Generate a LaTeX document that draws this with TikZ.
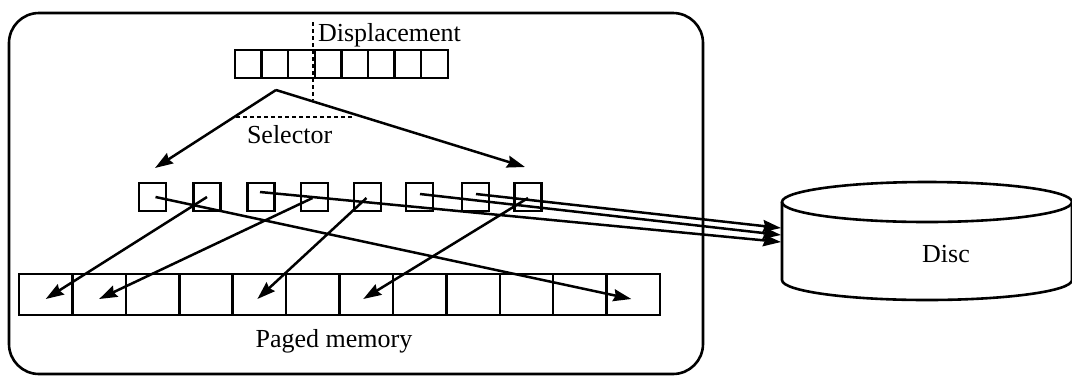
\documentclass[tikz,border=0pt]{standalone}
\usepackage{fontspec}
\setmainfont{Liberation Serif}
\usetikzlibrary{arrows.meta,calc}

\begin{document}
\begin{tikzpicture}[x=1pt,y=-1pt,
  every node/.style={inner sep=0pt,outer sep=0pt},
  frame/.style={line width=2.6pt,rounded corners=30pt},
  regcell/.style={draw,line width=2.5pt,minimum width=26.6pt,minimum height=28pt},
  memcell/.style={draw,line width=2.5pt,minimum width=53.42pt,minimum height=41pt},
  pbox/.style={draw,line width=2.5pt,minimum width=27pt,minimum height=28pt},
  link/.style={line width=2.5pt,-{Stealth[length=18pt,width=12pt,inset=2pt]}},
  splitline/.style={line width=2.5pt,dash pattern=on 4pt off 3pt},
  lbl/.style={font=\fontsize{26}{30}\selectfont},
  discline/.style={line width=2.6pt}]
\useasboundingbox (0,0) rectangle (1072,376);

% processor frame
\draw[frame] (9,13) rectangle (703,374);

% virtual address register
\foreach \i in {1,...,8}
  \node[regcell] (r\i) at ({235+26.6*(\i-0.5)},64) {};
\node[lbl,anchor=base west] (disp) at (318,41) {Displacement};
\coordinate (vtop) at (313,22);
\coordinate (vbot) at (313,100);
\draw[splitline] (vtop) -- (vbot);
\coordinate (hleft) at (236,117);
\coordinate (hright) at (352,117);
\draw[splitline] (hleft) -- (hright);
\node[lbl,anchor=base west] (sel) at (247,143) {Selector};

% page table entries
\foreach \i/\x in {1/152.5,2/207,3/261,4/314.5,5/367.5,6/419.5,7/475.5,8/528}
  \node[pbox] (b\i) at (\x,197) {};

% selector fan-out
\coordinate (apex) at (276,90);
\coordinate (fanl) at (155,168);
\coordinate (fanr) at (525,167);
\draw[link] (apex) -- (fanl);
\draw[link] (apex) -- (fanr);

% paged memory
\foreach \i in {1,...,12}
  \node[memcell] (m\i) at ({19+53.42*(\i-0.5)},294.5) {};
\node[lbl,anchor=base] (pm) at (334,347) {Paged memory};

% page table -> memory frames
\draw[link] ($(b1.center)+(3,0)$) -- ($(m12.center)+(-2,4.5)$);
\draw[link] (b2.center) -- ($(m1.center)+(0,4.5)$);
\draw[link] ($(b4.center)+(-2,1)$) -- ($(m2.center)+(0,4.5)$);
\draw[link] ($(b5.center)+(-1,1)$) -- ($(m5.center)+(-2,4.5)$);
\draw[link] ($(b8.center)+(0,1)$) -- ($(m7.center)+(-3,4.5)$);

% disc
\draw[discline] (927,202) ellipse [x radius=145pt,y radius=20pt];
\draw[discline] (782,202) -- (782,280) arc[start angle=180,end angle=360,x radius=145pt,y radius=20pt] -- (1072,202);
\node[lbl,anchor=base] (disc) at (946,262) {Disc};
\coordinate (d1) at (781,228);
\coordinate (d2) at (781,235);
\coordinate (d3) at (781,242);

% page table -> disc
\draw[link] ($(b7.center)+(0.5,-3)$) -- (d1);
\draw[link] ($(b6.center)+(0.5,-3)$) -- (d2);
\draw[link] ($(b3.center)+(-1,-5)$) -- (d3);
\end{tikzpicture}
\end{document}
